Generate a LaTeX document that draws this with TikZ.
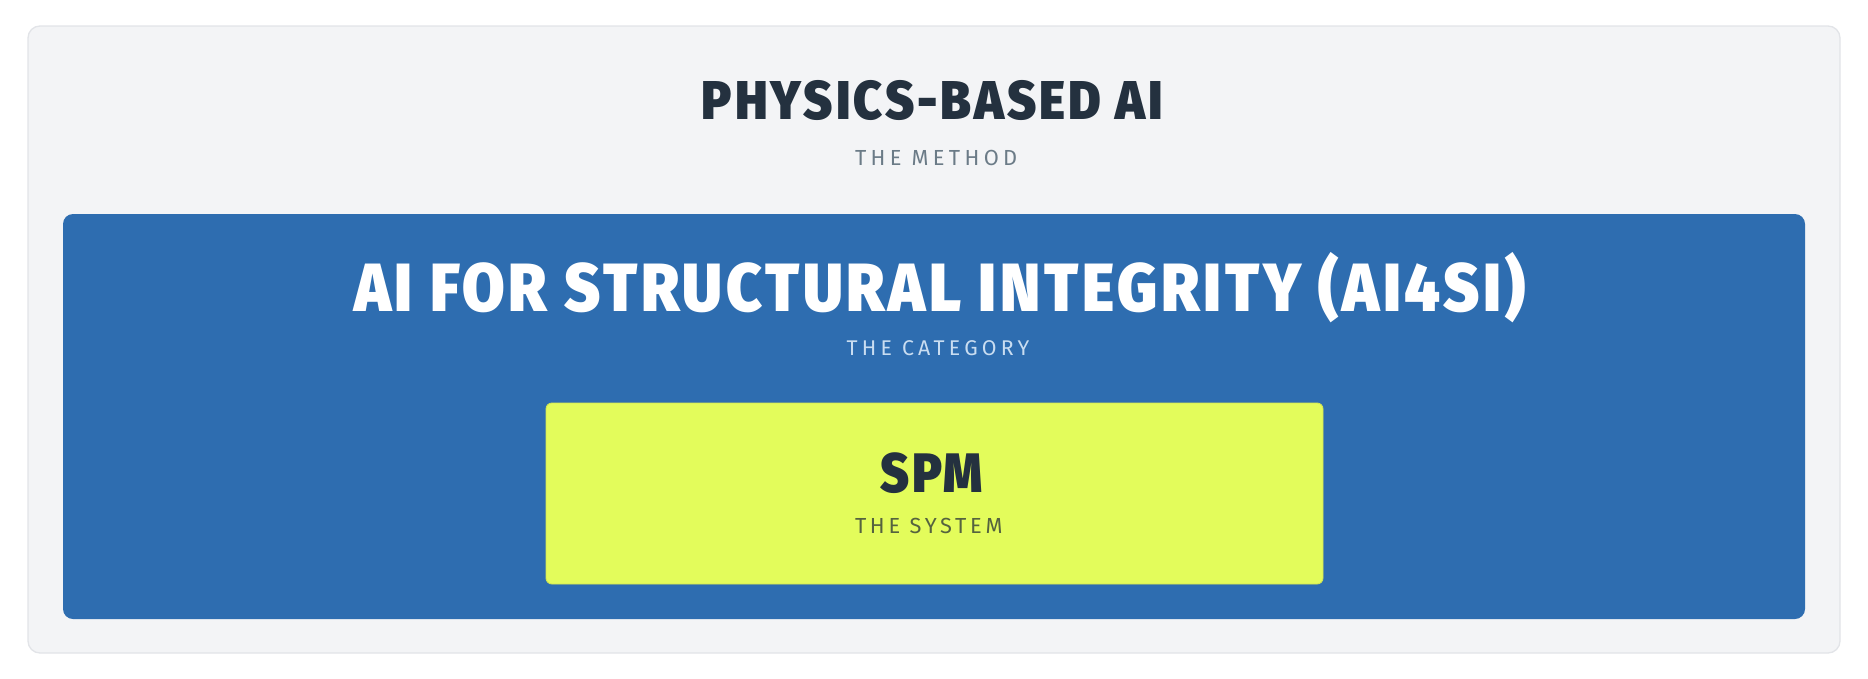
\documentclass[tikz,border=0pt]{standalone}
\usepackage{fontspec}
\usepackage{graphicx}
\setmainfont{Fira Sans}
\newfontfamily\titlefont{Fira Sans Black}[LetterSpace=6]
\newfontfamily\subfont{Fira Sans}[LetterSpace=20]
\newfontfamily\subfontb{Fira Sans}[LetterSpace=17]
\definecolor{outerbg}{HTML}{F3F4F6}
\definecolor{outerline}{HTML}{E2E4E8}
\definecolor{bluebox}{HTML}{2E6DB0}
\definecolor{yellowbox}{HTML}{E3FC5B}
\definecolor{yellowline}{HTML}{D3E653}
\definecolor{titlecol}{HTML}{24313F}
\definecolor{methodgrey}{HTML}{6B7B87}
\definecolor{catsubcol}{HTML}{C9DDF1}
\definecolor{syssubcol}{HTML}{55633F}
\tikzset{
  panel/.style={rectangle, inner sep=0pt, outer sep=0pt},
  outerpanel/.style={panel, rounded corners=12pt, fill=outerbg, draw=outerline, line width=1.3pt},
  bluepanel/.style={panel, rounded corners=10pt, fill=bluebox},
  yellowpanel/.style={panel, rounded corners=6pt, fill=yellowbox, draw=yellowline, line width=0.9pt},
  ttl/.style={anchor=base west, inner sep=0pt, outer sep=0pt, text=titlecol},
  subtxt/.style={anchor=base west, inner sep=0pt, outer sep=0pt}
}
\begin{document}
\begin{tikzpicture}[x=1pt,y=-1pt]
\fill[white] (0,0) rectangle (1868,678);
\useasboundingbox (0,0) rectangle (1868,678);
% panels
\node[outerpanel, minimum width=1812pt, minimum height=627pt] (outer) at (934,339.5) {};
\node[bluepanel, minimum width=1742pt, minimum height=405pt] (category) at (934,416.5) {};
\node[yellowpanel, minimum width=777pt, minimum height=181pt] (system) at (934.5,493.5) {};
% texts
\node[ttl] (methodtitle) at (701.7,119.3)
  {\resizebox{461pt}{\height}{\titlefont\fontsize{54.6}{60}\selectfont PHYSICS-BASED AI}};
\node[subtxt, text=methodgrey] (methodsub) at (855,165)
  {\subfont\fontsize{21.8}{26}\selectfont THE METHOD};
\node[ttl, text=white] (cattitle) at (354,311)
  {\resizebox{1171pt}{\height}{\titlefont\fontsize{68.2}{74}\selectfont AI FOR STRUCTURAL INTEGRITY (AI4SI)}};
\node[subtxt, text=catsubcol] (catsub) at (846.7,355.7)
  {\subfont\fontsize{21.3}{26}\selectfont THE CATEGORY};
\node[ttl] (systitle) at (880,492.3)
  {\resizebox{102.7pt}{\height}{\titlefont\fontsize{55.6}{60}\selectfont SPM}};
\node[subtxt, text=syssubcol] (syssub) at (855,533.3)
  {\subfontb\fontsize{21.8}{26}\selectfont THE SYSTEM};
\end{tikzpicture}
\end{document}
